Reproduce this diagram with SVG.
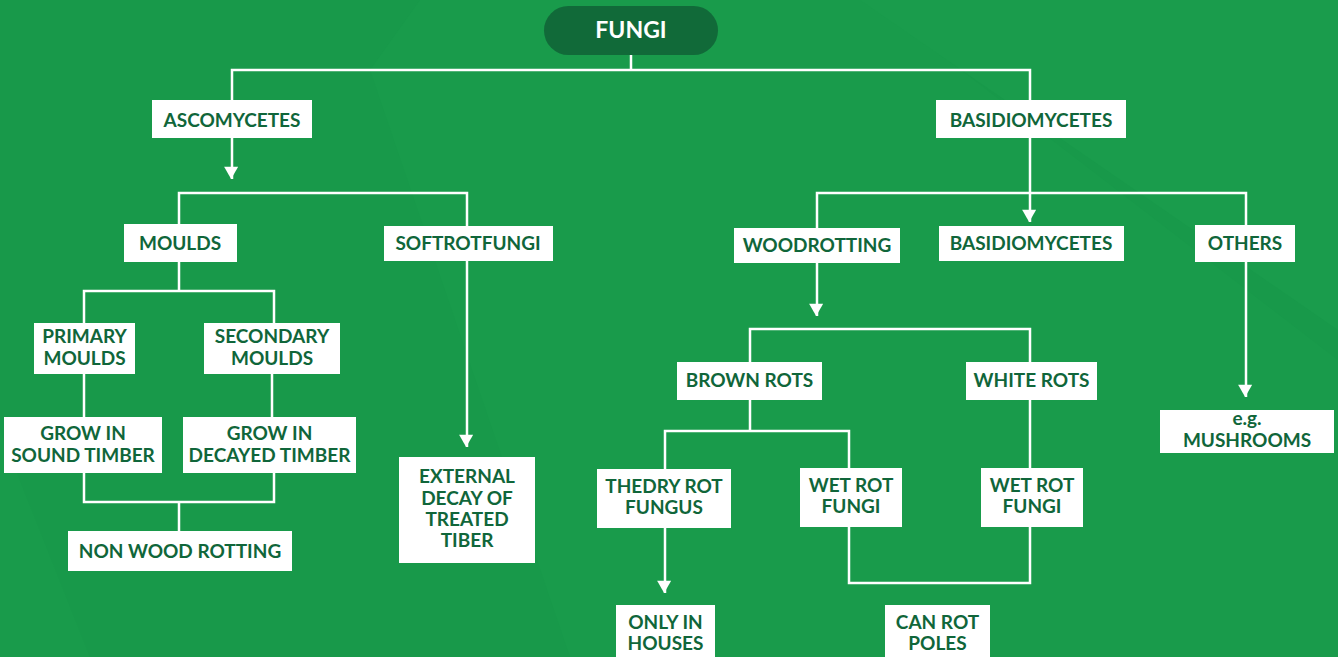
<svg xmlns="http://www.w3.org/2000/svg" width="1338" height="657" viewBox="0 0 1338 657">
<style>
.box{fill:#ffffff}
.t{font-family:Lato,"Liberation Sans",sans-serif;font-weight:700;font-size:19px;fill:#10663a;text-anchor:middle}
.c{fill:none;stroke:#ffffff;stroke-width:2.5}
</style>
<defs>
<marker id="ah" markerUnits="userSpaceOnUse" markerWidth="16" markerHeight="14" refX="14" refY="7" orient="auto" viewBox="0 0 14 16">
<path d="M0,0 L14,8 L0,16 z" fill="#ffffff"/>
</marker>
</defs>
<rect width="1338" height="657" fill="#18994a"/>
<polygon points="370,70 420,0 870,0 1338,360 1338,657 570,657" fill="#199b4b"/>
<polygon points="860,0 1338,0 1338,330" fill="#1a9c4c"/>
<polygon points="0,430 0,657 90,657" fill="#199b4b"/>

<g id="connectors">
<path class="c" d="M631,55 V70 M232,100 V70 H1030 V100"/>
<path class="c" d="M232,138 V179" marker-end="url(#ah)"/>
<path class="c" d="M179,224 V193 H467 V226"/>
<path class="c" d="M179,262 V291 M84,323 V291 H274 V323"/>
<path class="c" d="M84,374 V417 M272,374 V417"/>
<path class="c" d="M84,473 V502 H274 V473 M179,502 V531"/>
<path class="c" d="M467,261 V447" marker-end="url(#ah)"/>
<path class="c" d="M1030,138 V222" marker-end="url(#ah)"/>
<path class="c" d="M817,228 V193 H1246 V225"/>
<path class="c" d="M817,263 V316" marker-end="url(#ah)"/>
<path class="c" d="M1246,262 V397" marker-end="url(#ah)"/>
<path class="c" d="M750,362 V329 H1030 V362"/>
<path class="c" d="M750,400 V431 M665,469 V431 H849 V468"/>
<path class="c" d="M1030,400 V468"/>
<path class="c" d="M849,527 V583 H1030 V527"/>
<path class="c" d="M665,528 V593" marker-end="url(#ah)"/>
</g>

<g id="fungi">
<rect x="544" y="6" width="174" height="49" rx="24.5" fill="#116a39"/>
<text x="631" y="38" text-anchor="middle" font-family="Lato,'Liberation Sans',sans-serif" font-weight="700" font-size="23" fill="#ffffff">FUNGI</text>
</g>
<g id="ascomycetes"><rect class="box" x="152" y="100" width="160" height="38"/><text class="t" x="232" y="126.5">ASCOMYCETES</text></g>
<g id="basidiomycetes"><rect class="box" x="936" y="100" width="190" height="38"/><text class="t" x="1031" y="126.5">BASIDIOMYCETES</text></g>
<g id="moulds"><rect class="box" x="124" y="224" width="113" height="38"/><text class="t" x="180" y="250">MOULDS</text></g>
<g id="softrotfungi"><rect class="box" x="384" y="226" width="169" height="35"/><text class="t" x="468" y="250">SOFTROTFUNGI</text></g>
<g id="woodrotting"><rect class="box" x="734" y="228" width="166" height="35"/><text class="t" x="817" y="252">WOODROTTING</text></g>
<g id="basidiomycetes2"><rect class="box" x="939" y="226" width="185" height="35"/><text class="t" x="1031" y="250">BASIDIOMYCETES</text></g>
<g id="others"><rect class="box" x="1195" y="225" width="100" height="37"/><text class="t" x="1245" y="250">OTHERS</text></g>
<g id="primary-moulds"><rect class="box" x="34" y="323" width="101" height="51"/><text class="t" x="84.5" y="343">PRIMARY</text><text class="t" x="84.5" y="365">MOULDS</text></g>
<g id="secondary-moulds"><rect class="box" x="204" y="323" width="136" height="51"/><text class="t" x="272" y="343">SECONDARY</text><text class="t" x="272" y="365">MOULDS</text></g>
<g id="grow-sound"><rect class="box" x="4" y="417" width="158" height="56"/><text class="t" x="83" y="440">GROW IN</text><text class="t" x="83" y="462">SOUND TIMBER</text></g>
<g id="grow-decayed"><rect class="box" x="183" y="417" width="173" height="56"/><text class="t" x="269.5" y="440">GROW IN</text><text class="t" x="269.5" y="462">DECAYED TIMBER</text></g>
<g id="non-wood-rotting"><rect class="box" x="68" y="531" width="224" height="40"/><text class="t" x="180" y="558">NON WOOD ROTTING</text></g>
<g id="external-decay"><rect class="box" x="399" y="457" width="136" height="106"/><text class="t" x="467" y="483">EXTERNAL</text><text class="t" x="467" y="505">DECAY OF</text><text class="t" x="467" y="526">TREATED</text><text class="t" x="467" y="547">TIBER</text></g>
<g id="brown-rots"><rect class="box" x="677" y="362" width="145" height="38"/><text class="t" x="749.5" y="387">BROWN ROTS</text></g>
<g id="white-rots"><rect class="box" x="966" y="362" width="131" height="38"/><text class="t" x="1031.5" y="387">WHITE ROTS</text></g>
<g id="thedry-rot"><rect class="box" x="597" y="469" width="134" height="59"/><text class="t" x="664" y="493">THEDRY ROT</text><text class="t" x="664" y="514">FUNGUS</text></g>
<g id="wet-rot-left"><rect class="box" x="800" y="468" width="102" height="59"/><text class="t" x="851" y="492">WET ROT</text><text class="t" x="851" y="513">FUNGI</text></g>
<g id="wet-rot-right"><rect class="box" x="981" y="468" width="102" height="59"/><text class="t" x="1032" y="492">WET ROT</text><text class="t" x="1032" y="513">FUNGI</text></g>
<g id="mushrooms"><rect class="box" x="1160" y="410" width="174" height="43"/><text class="t" x="1247" y="425">e.g.</text><text class="t" x="1247" y="447">MUSHROOMS</text></g>
<g id="only-in-houses"><rect class="box" x="616" y="605" width="99" height="60"/><text class="t" x="665.5" y="629">ONLY IN</text><text class="t" x="665.5" y="650">HOUSES</text></g>
<g id="can-rot-poles"><rect class="box" x="885" y="605" width="105" height="60"/><text class="t" x="937.5" y="629">CAN ROT</text><text class="t" x="937.5" y="650">POLES</text></g>
</svg>
